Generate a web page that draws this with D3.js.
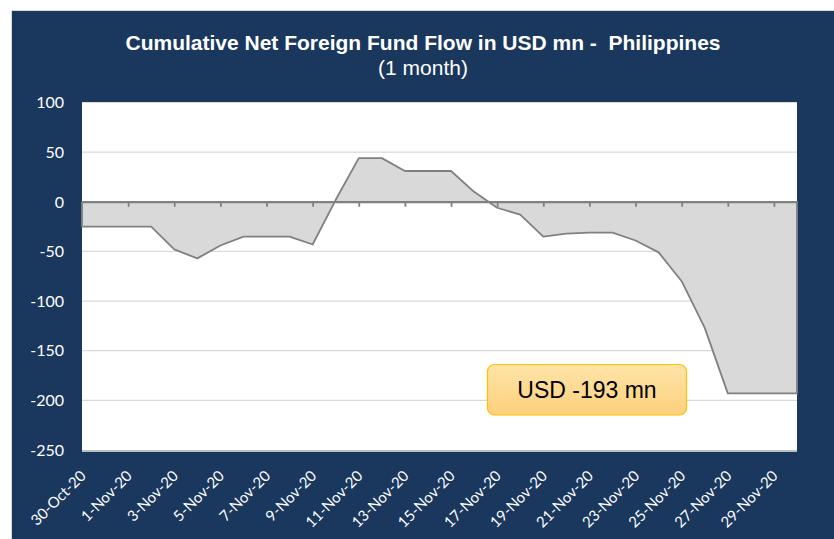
<!DOCTYPE html>
<html>
<head>
<meta charset="utf-8">
<script src="https://cdn.jsdelivr.net/npm/d3@7"></script>
<style>
  body { margin: 0; background: #fff; }
  svg { display: block; }
</style>
</head>
<body>
<svg id="chart"></svg>
<script>
// data
var dates = [
  "2020-10-30", "2020-10-31", "2020-11-01", "2020-11-02", "2020-11-03", "2020-11-04",
  "2020-11-05", "2020-11-06", "2020-11-07", "2020-11-08", "2020-11-09", "2020-11-10",
  "2020-11-11", "2020-11-12", "2020-11-13", "2020-11-14", "2020-11-15", "2020-11-16",
  "2020-11-17", "2020-11-18", "2020-11-19", "2020-11-20", "2020-11-21", "2020-11-22",
  "2020-11-23", "2020-11-24", "2020-11-25", "2020-11-26", "2020-11-27", "2020-11-28",
  "2020-11-29", "2020-11-30"
];
var flows = [
  -25, -25, -25, -25, -48, -57,
  -44, -35, -35, -35, -43, 2,
  44, 44, 31, 31, 31, 10,
  -6, -13, -35, -32, -31, -31,
  -39, -51, -80, -127, -193, -193,
  -193, -193
];
var yTicks = [100, 50, 0, -50, -100, -150, -200, -250];
var xTickDates = [
  "2020-10-30", "2020-11-01", "2020-11-03", "2020-11-05", "2020-11-07", "2020-11-09",
  "2020-11-11", "2020-11-13", "2020-11-15", "2020-11-17", "2020-11-19", "2020-11-21",
  "2020-11-23", "2020-11-25", "2020-11-27", "2020-11-29"
];
var title = "Cumulative Net Foreign Fund Flow in USD mn -  Philippines";
var subtitle = "(1 month)";

var width = 834, height = 539;
var navy = "#1a375e";
var margin = {top: 102.5, right: 37, bottom: 89, left: 82};

var parse = d3.utcParse("%Y-%m-%d");
var data = dates.map(function(d, i){ return {date: parse(d), v: flows[i]}; });

var svg = d3.select("#chart")
    .attr("width", width)
    .attr("height", height);

// background panel
svg.append("rect")
    .attr("x", 11).attr("y", 10)
    .attr("width", width - 11).attr("height", height - 10)
    .attr("fill", "#d9d9d9");
svg.append("rect")
    .attr("x", 12).attr("y", 11)
    .attr("width", width - 12).attr("height", height - 11)
    .attr("fill", navy);

// scales
var xScale = d3.scaleUtc()
    .domain(d3.extent(data, function(d){ return d.date; }))
    .range([margin.left, width - margin.right]);

var yScale = d3.scaleLinear()
    .domain([-250, 100])
    .range([height - margin.bottom, margin.top]);

// plot area (with a soft shadow at the bottom)
svg.append("rect")
    .attr("x", margin.left)
    .attr("y", yScale(-250))
    .attr("width", xScale.range()[1] - margin.left)
    .attr("height", 2)
    .attr("fill", "#bfbfbf");
svg.append("rect")
    .attr("x", margin.left)
    .attr("y", margin.top)
    .attr("width", xScale.range()[1] - margin.left)
    .attr("height", yScale(-250) - margin.top)
    .attr("fill", "#fff");

// gridlines
svg.append("g")
  .selectAll("line")
  .data(yTicks.filter(function(t){ return t !== 0 && t !== -250; }))
  .join("line")
    .attr("x1", margin.left)
    .attr("x2", xScale.range()[1])
    .attr("y1", function(d){ return yScale(d); })
    .attr("y2", function(d){ return yScale(d); })
    .attr("stroke", "#d9d9d9")
    .attr("stroke-width", 1.2);

// area
var area = d3.area()
    .x(function(d){ return xScale(d.date); })
    .y0(yScale(0))
    .y1(function(d){ return yScale(d.v); });

svg.append("path")
    .datum(data)
    .attr("d", function(d){ return area(d) + "Z"; })
    .attr("fill", "#d9d9d9")
    .attr("stroke", "#808080")
    .attr("stroke-width", 1.8)
    .attr("stroke-linejoin", "round");

// zero axis with tick marks
var xAxis = d3.axisBottom(xScale)
    .tickValues(xTickDates.slice(1).map(parse))
    .tickFormat("")
    .tickSizeInner(5)
    .tickSizeOuter(0);

var zeroAxis = svg.append("g")
    .attr("transform", "translate(0," + yScale(0) + ")")
    .call(xAxis);
zeroAxis.select(".domain").attr("stroke", "#808080").attr("stroke-width", 1.8);
zeroAxis.selectAll(".tick line").attr("stroke", "#808080").attr("stroke-width", 1.8);

// y axis labels
svg.append("g")
  .selectAll("text")
  .data(yTicks)
  .join("text")
    .attr("x", 64)
    .attr("y", function(d){ return yScale(d); })
    .attr("dy", "0.36em")
    .attr("text-anchor", "end")
    .style("font-family", "Lato, 'Open Sans', sans-serif")
    .style("font-size", "16px")
    .style("fill", "#fff")
    .text(function(d){ return d; });

// x axis labels, rotated
var fmt = d3.utcFormat("%-d-%b-%y");
svg.append("g")
  .selectAll("text")
  .data(xTickDates.map(parse))
  .join("text")
    .attr("transform", function(d){ return "translate(" + (xScale(d) + 1) + "," + (yScale(-250) + 23) + ") rotate(-45)"; })
    .attr("dy", "0.36em")
    .attr("text-anchor", "end")
    .style("font-family", "Lato, 'Open Sans', sans-serif")
    .style("font-size", "15px")
    .style("fill", "#fff")
    .text(function(d){ return fmt(d); });

// title
svg.append("text")
    .attr("x", 423)
    .attr("y", 50)
    .attr("text-anchor", "middle")
    .style("font-family", "'Liberation Sans', Arial, sans-serif")
    .style("font-weight", "bold")
    .style("font-size", "21px")
    .style("fill", "#fff")
    .style("white-space", "pre")
    .text(title);

svg.append("text")
    .attr("x", 423)
    .attr("y", 75)
    .attr("text-anchor", "middle")
    .style("font-family", "'Liberation Sans', Arial, sans-serif")
    .style("font-size", "21px")
    .style("fill", "#fff")
    .text(subtitle);

// callout with the last value
var defs = svg.append("defs");
var grad = defs.append("linearGradient")
    .attr("id", "callout-grad")
    .attr("x1", 0).attr("y1", 0).attr("x2", 0).attr("y2", 1);
grad.append("stop").attr("offset", "0%").attr("stop-color", "#fee4a8");
grad.append("stop").attr("offset", "100%").attr("stop-color", "#fdd07c");

var last = data[data.length - 1];
var box = svg.append("g").attr("transform", "translate(487.5,364.5)");
box.append("rect")
    .attr("width", 199)
    .attr("height", 50.5)
    .attr("rx", 7)
    .attr("fill", "url(#callout-grad)")
    .attr("stroke", "#ffc000")
    .attr("stroke-width", 1.2);
box.append("text")
    .attr("x", 99.5)
    .attr("y", 25)
    .attr("dy", "0.36em")
    .attr("text-anchor", "middle")
    .style("font-family", "'Liberation Sans', Arial, sans-serif")
    .style("font-size", "23px")
    .style("fill", "#000")
    .text("USD " + last.v + " mn");
</script>
</body>
</html>
